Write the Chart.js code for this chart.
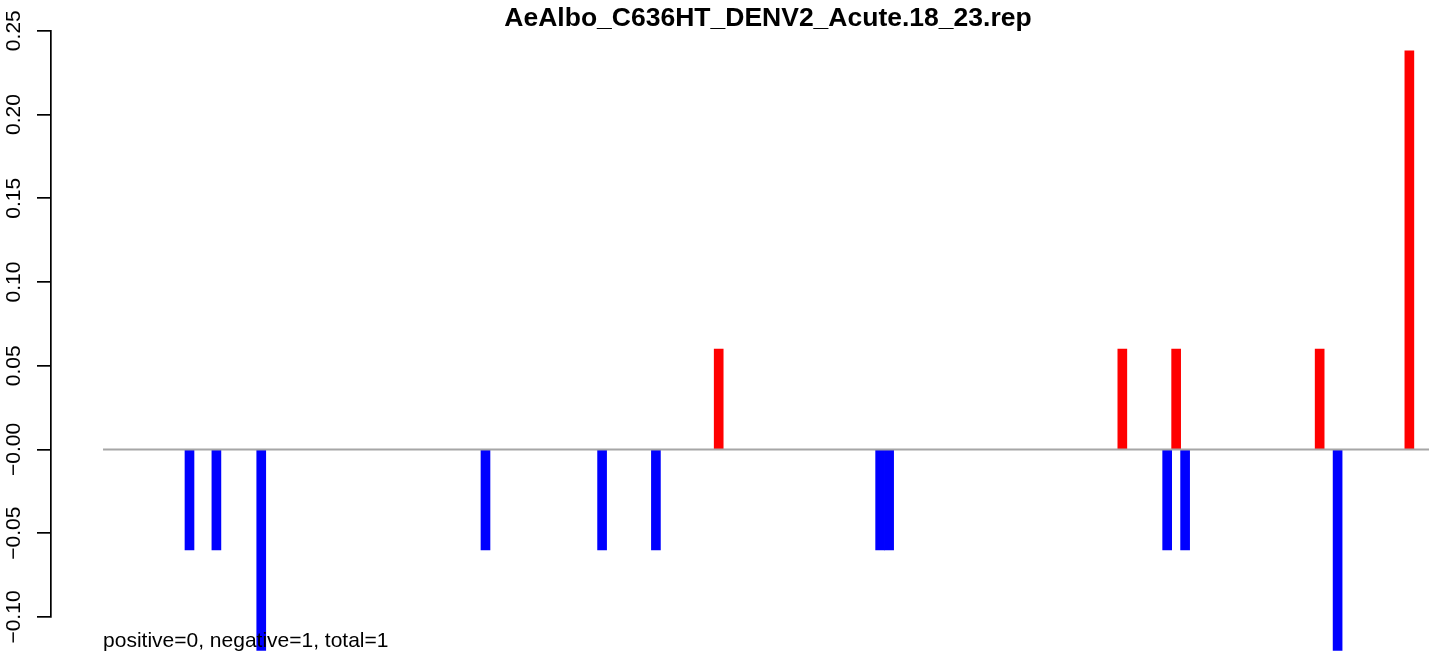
<!DOCTYPE html>
<html lang="en">
<head>
    <meta charset="UTF-8">
    <title>AeAlbo_C636HT_DENV2_Acute.18_23.rep</title>
    <script src="https://cdn.jsdelivr.net/npm/chart.js@4.4.1/dist/chart.umd.min.js"></script>
    <style>
        body {margin: 0; background: #fff;}
        #wrap {width: 1429px; height: 655px;}
    </style>
</head>
<body>
    <div id="wrap">
        <canvas id="barChart" width="1429" height="655"></canvas>
    </div>

    <script>
        // bar slot index (0-based, barplot with space = 0) and value
        const barIndex = [9, 12, 17, 42, 55, 61, 68, 86, 87, 113, 118, 119, 120, 135, 137, 145];
        const barValue = [-0.06, -0.06, -0.12, -0.06, -0.06, -0.06, 0.06, -0.06, -0.06, 0.06, -0.06, 0.06, -0.06, 0.06, -0.12, 0.238];
        const yTickMin = -0.10;
        const yTickMax = 0.25;
        const yTickStep = 0.05;
        const titleText = 'AeAlbo_C636HT_DENV2_Acute.18_23.rep';
        const noteText = 'positive=0, negative=1, total=1';

        const FONT = '"Liberation Sans", Arial, Helvetica, sans-serif';
        const plotStart = -0.14;   // left edge of the R plot region, in slot units

        const extras = {
            id: 'extras',
            afterDatasetsDraw(chart) {
                const ctx = chart.ctx;
                const x = chart.scales.x, y = chart.scales.y;
                const y0 = y.getPixelForValue(0);
                ctx.save();
                ctx.strokeStyle = '#a6a6a6';
                ctx.lineWidth = 1.8;
                ctx.beginPath();
                ctx.moveTo(x.getPixelForValue(plotStart), y0);
                ctx.lineTo(chart.width, y0);
                ctx.stroke();
                ctx.restore();
            },
            afterDraw(chart) {
                const ctx = chart.ctx;
                const x = chart.scales.x;
                ctx.save();
                ctx.fillStyle = '#000';
                ctx.font = 'bold 26.5px ' + FONT;
                ctx.textAlign = 'center';
                ctx.textBaseline = 'alphabetic';
                ctx.fillText(titleText, 768, 26);
                ctx.font = '21px ' + FONT;
                ctx.textAlign = 'left';
                ctx.fillText(noteText, x.getPixelForValue(plotStart), 647);
                ctx.restore();
            }
        };

        const ctx = document.getElementById('barChart').getContext('2d');
        const barChart = new Chart(ctx, {
            type: 'bar',
            data: {
                datasets: [{
                    data: barIndex.map((k, i) => ({x: k + 0.5, y: barValue[i]})),
                    backgroundColor: barValue.map(v => v > 0 ? '#ff0000' : '#0000ff'),
                    borderWidth: 0,
                    barThickness: 9,
                    clip: false
                }]
            },
            options: {
                responsive: false,
                animation: false,
                devicePixelRatio: 1,
                layout: {padding: {top: 30.7, bottom: 38, left: 0, right: 0}},
                plugins: {
                    legend: {display: false},
                    tooltip: {enabled: false},
                    title: {display: false}
                },
                scales: {
                    x: {
                        type: 'linear',
                        display: false,
                        offset: false,
                        min: -5.94,
                        max: 147.69
                    },
                    y: {
                        type: 'linear',
                        min: yTickMin,
                        max: yTickMax,
                        afterFit(scale) { scale.width = 51; },
                        border: {display: true, color: '#000', width: 1.7},
                        grid: {
                            drawOnChartArea: false,
                            drawTicks: true,
                            tickLength: 14,
                            color: '#000',
                            lineWidth: 1.7
                        },
                        ticks: {
                            stepSize: yTickStep,
                            autoSkip: false,
                            minRotation: 90,
                            maxRotation: 90,
                            crossAlign: 'center',
                            padding: -3.6,
                            color: '#000',
                            font: {family: FONT, size: 21},
                            callback: v => v.toFixed(2).replace('-', '\u2212')
                        }
                    }
                }
            },
            plugins: [extras]
        });
    </script>
</body>
</html>
